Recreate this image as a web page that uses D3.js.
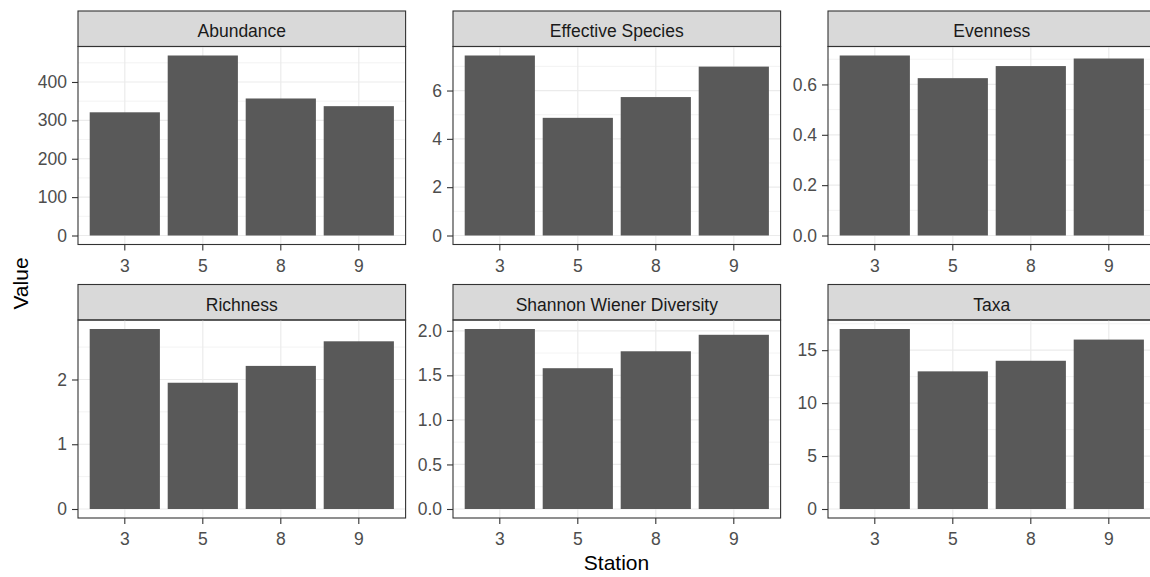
<!DOCTYPE html>
<html>
<head>
<meta charset="utf-8">
<script src="https://cdn.jsdelivr.net/npm/d3@7"></script>
<style>
  body { margin: 0; background: #fff; }
  svg { display: block; font-family: "Liberation Sans", Arial, sans-serif; }
</style>
</head>
<body>
<div class="chart"></div>
<script>
// data
var stations = ["3", "5", "8", "9"];
var metrics = ["Abundance", "Effective Species", "Evenness", "Richness", "Shannon Wiener Diversity", "Taxa"];

var abundance = [321, 469, 357, 337];
var effectiveSpecies = [7.45, 4.87, 5.73, 6.99];
var evenness = [0.715, 0.625, 0.673, 0.703];
var richness = [2.78, 1.95, 2.21, 2.59];
var shannon = [2.02, 1.58, 1.77, 1.955];
var taxa = [17, 13, 14, 16];

var abundanceTicks = [0, 100, 200, 300, 400];
var effectiveTicks = [0, 2, 4, 6];
var evennessTicks = [0, 0.2, 0.4, 0.6];
var richnessTicks = [0, 1, 2];
var shannonTicks = [0, 0.5, 1, 1.5, 2];
var taxaTicks = [0, 5, 10, 15];

var seriesValues = [abundance, effectiveSpecies, evenness, richness, shannon, taxa];
var seriesTicks = [abundanceTicks, effectiveTicks, evennessTicks, richnessTicks, shannonTicks, taxaTicks];
var tickFormats = [d3.format("d"), d3.format("d"), d3.format(".1f"), d3.format("d"), d3.format(".1f"), d3.format("d")];

// layout
var W = 1150, H = 577;
var left0 = 78, colStep = 375, panelW = 327.6;
var top0 = 11, rowStep = 273.5, stripH = 35.5, plotH = 198;

var svg = d3.select(".chart").append("svg")
  .attr("width", W).attr("height", H);

svg.append("rect").attr("width", W).attr("height", H).attr("fill", "#fff");

metrics.forEach(function (name, i) {
  var col = i % 3, row = Math.floor(i / 3);
  var values = seriesValues[i];
  var ticks = seriesTicks[i];
  var maxV = d3.max(values);

  var g = svg.append("g")
    .attr("transform", "translate(" + (left0 + col * colStep) + "," + (top0 + row * rowStep) + ")");

  // strip
  g.append("rect")
    .attr("width", panelW).attr("height", stripH)
    .attr("fill", "#D9D9D9").attr("stroke", "#333333").attr("stroke-width", 1.1);
  g.append("text")
    .attr("x", panelW / 2).attr("y", 26.3)
    .attr("text-anchor", "middle")
    .attr("font-size", "17.5px").attr("fill", "#1A1A1A")
    .text(name);

  var p = g.append("g").attr("transform", "translate(0," + stripH + ")");

  var x = d3.scaleBand().domain(stations).range([0, panelW])
    .paddingInner(0.1).paddingOuter(0.15);
  var y = d3.scaleLinear().domain([-0.05 * maxV, 1.05 * maxV]).range([plotH, 0]);

  // minor grid
  var step = ticks[1] - ticks[0];
  var minor = [];
  for (var k = 0; k <= ticks.length; k++) {
    var m = ticks[0] + step * (k + 0.5);
    if (m < y.domain()[1]) minor.push(m);
  }
  p.selectAll(".minor").data(minor).enter().append("line")
    .attr("x1", 0).attr("x2", panelW)
    .attr("y1", function (d) { return y(d); }).attr("y2", function (d) { return y(d); })
    .attr("stroke", "#EBEBEB").attr("stroke-width", 0.6);

  // major grid
  p.selectAll(".major").data(ticks).enter().append("line")
    .attr("x1", 0).attr("x2", panelW)
    .attr("y1", function (d) { return y(d); }).attr("y2", function (d) { return y(d); })
    .attr("stroke", "#EBEBEB").attr("stroke-width", 1.2);
  p.selectAll(".vmajor").data(stations).enter().append("line")
    .attr("y1", 0).attr("y2", plotH)
    .attr("x1", function (d) { return x(d) + x.bandwidth() / 2; })
    .attr("x2", function (d) { return x(d) + x.bandwidth() / 2; })
    .attr("stroke", "#EBEBEB").attr("stroke-width", 1.2);

  // bars
  p.selectAll(".bar").data(values).enter().append("rect")
    .attr("x", function (d, j) { return x(stations[j]); })
    .attr("width", x.bandwidth())
    .attr("y", function (d) { return y(d); })
    .attr("height", function (d) { return y(0) - y(d); })
    .attr("fill", "#595959");

  // border
  p.append("rect")
    .attr("width", panelW).attr("height", plotH)
    .attr("fill", "none").attr("stroke", "#333333").attr("stroke-width", 1.1);

  // axes
  var ya = p.append("g")
    .call(d3.axisLeft(y).tickValues(ticks).tickFormat(tickFormats[i]).tickSize(6).tickPadding(5));
  ya.select(".domain").remove();
  ya.selectAll("line").attr("stroke", "#333333").attr("stroke-width", 1.1);
  ya.selectAll("text").attr("font-size", "17.5px").attr("fill", "#4D4D4D").attr("font-family", null);

  var xa = p.append("g")
    .attr("transform", "translate(0," + plotH + ")")
    .call(d3.axisBottom(x).tickSize(6).tickPadding(9));
  xa.select(".domain").remove();
  xa.selectAll("line").attr("stroke", "#333333").attr("stroke-width", 1.1);
  xa.selectAll("text").attr("font-size", "17.5px").attr("fill", "#4D4D4D").attr("font-family", null);
});

// axis titles
svg.append("text")
  .attr("transform", "translate(28,283.5) rotate(-90)")
  .attr("text-anchor", "middle")
  .attr("font-size", "21px").attr("fill", "#000")
  .text("Value");

svg.append("text")
  .attr("x", 616.5).attr("y", 570)
  .attr("text-anchor", "middle")
  .attr("font-size", "21px").attr("fill", "#000")
  .text("Station");
</script>
</body>
</html>
